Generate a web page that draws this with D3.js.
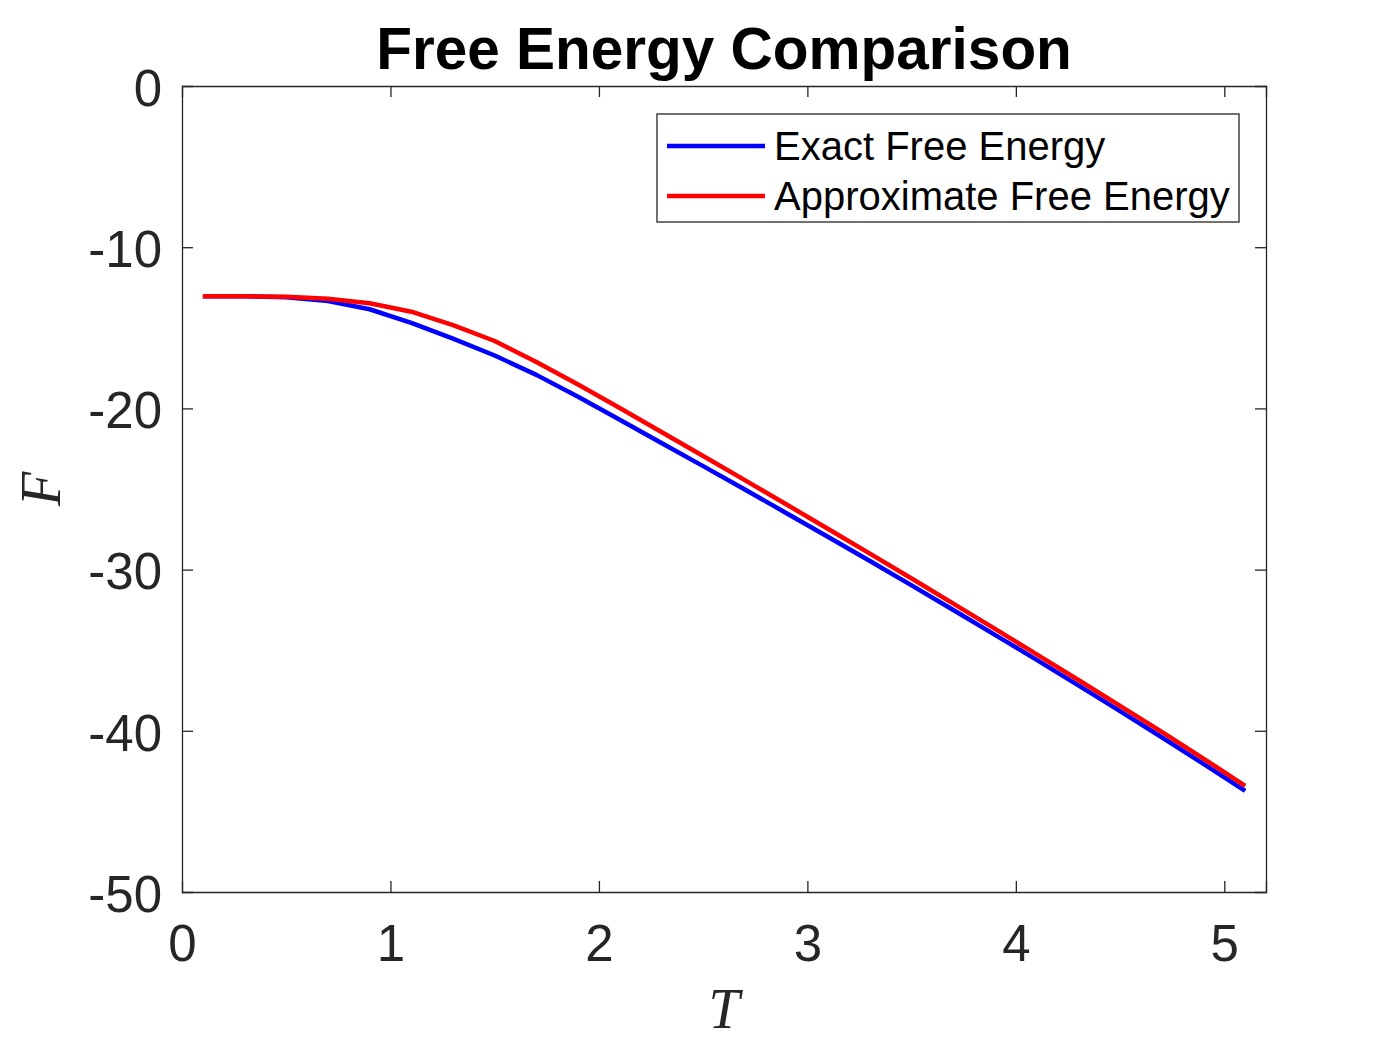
<!DOCTYPE html>
<html>
<head>
<meta charset="utf-8">
<script src="https://cdn.jsdelivr.net/npm/d3@7"></script>
<style>
  body { margin: 0; background: #fff; }
  svg { display: block; font-family: Arial, "Liberation Sans", Helvetica, sans-serif; }
</style>
</head>
<body>
<div id="chart"></div>
<script>
// Temperature samples
const temps = [0.1, 0.3, 0.5, 0.7, 0.9, 1.1, 1.3, 1.5, 1.7, 1.9, 2.1, 2.3, 2.5,
  2.7, 2.9, 3.1, 3.3, 3.5, 3.7, 3.9, 4.1, 4.3, 4.5, 4.7, 4.9, 5.1];

// Free energy values
const exactF = [-13.05, -13.05, -13.10, -13.34, -13.85, -14.70, -15.67, -16.72, -17.92,
  -19.28, -20.70, -22.15, -23.58, -25.03, -26.50, -27.98, -29.47, -30.98, -32.51,
  -34.05, -35.60, -37.18, -38.78, -40.40, -42.05, -43.73];
const approxF = [-13.05, -13.05, -13.07, -13.20, -13.48, -14.00, -14.83, -15.82, -17.12,
  -18.52, -19.98, -21.46, -22.95, -24.45, -25.96, -27.48, -29.01, -30.55, -32.11,
  -33.68, -35.26, -36.85, -38.45, -40.07, -41.72, -43.42];

const xTicks = [0, 1, 2, 3, 4, 5];
const yTicks = [0, -10, -20, -30, -40, -50];
const seriesNames = ['Exact Free Energy', 'Approximate Free Energy'];
const seriesColors = ['#0000ff', '#ff0000'];

const W = 1400, H = 1050;
const margin = { left: 182, right: 134, top: 86, bottom: 158 };
const axisColor = '#262626';

const svg = d3.select('#chart').append('svg')
  .attr('width', W)
  .attr('height', H);

const x = d3.scaleLinear().domain([0, 5.2]).range([margin.left, W - margin.right]);
const y = d3.scaleLinear().domain([-50, 0]).range([H - margin.bottom, margin.top]);

const x0 = x.range()[0], x1 = x.range()[1];
const y0 = y.range()[0], y1 = y.range()[1];

// Series lines
const line = d3.line()
  .x(d => x(d[0]))
  .y(d => y(d[1]));

const series = [exactF, approxF];
series.forEach((vals, i) => {
  svg.append('path')
    .datum(temps.map((t, j) => [t, vals[j]]))
    .attr('fill', 'none')
    .attr('stroke', seriesColors[i])
    .attr('stroke-width', 4.5)
    .attr('stroke-linejoin', 'round')
    .attr('d', line);
});

// Axes box with inward ticks on all four sides
const tickLen = 11;
const fmt = d => String(d);
const axBottom = svg.append('g').attr('transform', `translate(0,${y0})`)
  .call(d3.axisBottom(x).tickValues(xTicks).tickSize(-tickLen).tickPadding(33).tickFormat(fmt));
const axTop = svg.append('g').attr('transform', `translate(0,${y1})`)
  .call(d3.axisTop(x).tickValues(xTicks).tickSize(-tickLen).tickFormat(''));
const axLeft = svg.append('g').attr('transform', `translate(${x0},0)`)
  .call(d3.axisLeft(y).tickValues(yTicks).tickSize(-tickLen).tickPadding(20).tickFormat(fmt));
const axRight = svg.append('g').attr('transform', `translate(${x1},0)`)
  .call(d3.axisRight(y).tickValues(yTicks).tickSize(-tickLen).tickFormat(''));

[axBottom, axTop, axLeft, axRight].forEach(g => {
  g.select('.domain').attr('stroke', axisColor).attr('stroke-width', 1.3);
  g.selectAll('.tick line').attr('stroke', axisColor).attr('stroke-width', 1.3);
  g.selectAll('.tick text')
    .attr('fill', axisColor)
    .style('font-size', '51px')
    .style('font-family', 'Arial, "Liberation Sans", sans-serif');
});
// hide tick marks that sit on the box corners
axBottom.selectAll('.tick').filter(d => d === 0).select('line').remove();
axTop.selectAll('.tick').filter(d => d === 0).select('line').remove();
axLeft.selectAll('.tick').filter(d => d === 0 || d === -50).select('line').remove();
axRight.selectAll('.tick').filter(d => d === 0 || d === -50).select('line').remove();
axLeft.selectAll('.tick text').attr('dy', '0.38em');

// Title
svg.append('text')
  .attr('x', (x0 + x1) / 2)
  .attr('y', 69)
  .attr('text-anchor', 'middle')
  .style('font-size', '58.5px')
  .style('font-weight', 'bold')
  .attr('fill', '#000')
  .text('Free Energy Comparison');

// Axis labels (LaTeX-style italic)
svg.append('text')
  .attr('x', (x0 + x1) / 2)
  .attr('y', 1028)
  .attr('text-anchor', 'middle')
  .style('font-family', '"Liberation Serif", "DejaVu Serif", serif')
  .style('font-style', 'italic')
  .style('font-size', '56px')
  .attr('fill', axisColor)
  .text('T');

svg.append('text')
  .attr('transform', `translate(60,${(y0 + y1) / 2}) rotate(-90)`)
  .attr('text-anchor', 'middle')
  .style('font-family', '"Liberation Serif", "DejaVu Serif", serif')
  .style('font-style', 'italic')
  .style('font-size', '56px')
  .attr('fill', axisColor)
  .text('F');

// Legend
const legend = svg.append('g').attr('transform', 'translate(657,114)');
legend.append('rect')
  .attr('width', 582)
  .attr('height', 108)
  .attr('fill', '#fff')
  .attr('stroke', axisColor)
  .attr('stroke-width', 1.3);

seriesNames.forEach((name, i) => {
  const ly = 32 + i * 50;
  legend.append('line')
    .attr('x1', 10).attr('x2', 108)
    .attr('y1', ly).attr('y2', ly)
    .attr('stroke', seriesColors[i])
    .attr('stroke-width', 4.5);
  legend.append('text')
    .attr('x', 117)
    .attr('y', ly + 14)
    .style('font-size', '40px')
    .attr('fill', '#000')
    .text(name);
});
</script>
</body>
</html>
